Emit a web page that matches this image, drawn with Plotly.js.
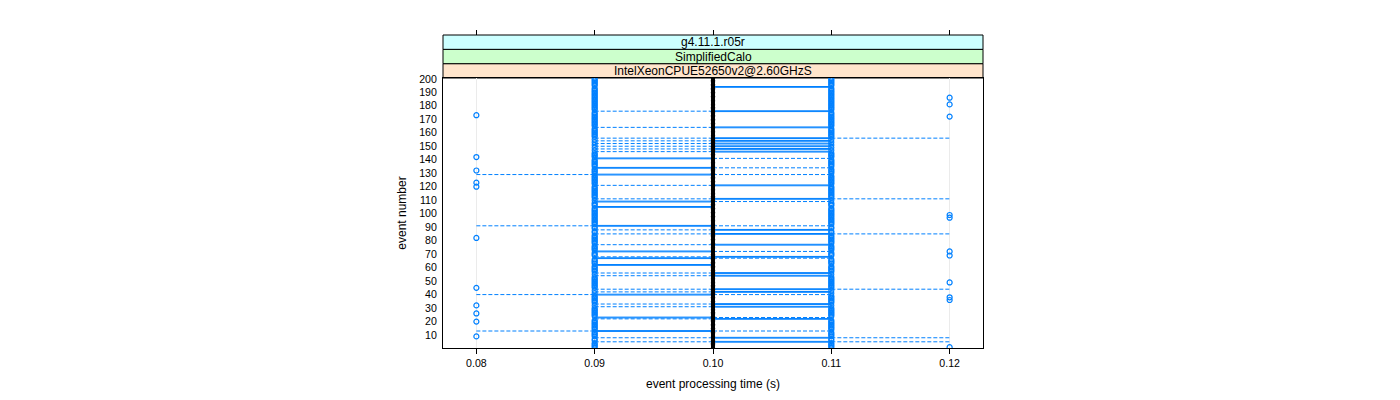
<!DOCTYPE html>
<html><head><meta charset="utf-8">
<script src="https://cdn.plot.ly/plotly-3.0.1.min.js"></script>
<style>html,body{margin:0;padding:0;background:#fff}#chart{width:1400px;height:400px}</style>
</head><body><div id="chart"></div>
<script>
// ---- data ----
const stripLabels = ["IntelXeonCPUE52650v2@2.60GHzS", "SimplifiedCalo", "g4.11.1.r05r"];
const stripColors = ["#ffe5cc", "#ccffcc", "#ccffff"];
const xTickVals = [0.08, 0.09, 0.10, 0.11, 0.12];
const xTickText = ["0.08", "0.09", "0.10", "0.11", "0.12"];
const yTickVals = [10, 20, 30, 40, 50, 60, 70, 80, 90, 100, 110, 120, 130, 140, 150, 160, 170, 180, 190, 200];
const eventCount = 200;
const medianTime = 0.10;            // every event's median
const zeroIqrOutlierTimes = [0.09, 0.11]; // outliers of events whose box collapses to the median

// events whose box has a non-zero width
const boxEvents   = [194, 176, 164, 156, 154, 152, 150, 148, 146, 141, 134, 129, 121, 111, 109, 105, 91, 88, 85, 77, 72, 68, 67, 62, 56, 54, 44, 42, 40, 33, 31, 23, 22, 13, 8, 5];
const boxQ1       = [0.10, 0.10, 0.10, 0.10, 0.10, 0.10, 0.10, 0.10, 0.10, 0.09, 0.09, 0.09, 0.10, 0.10, 0.09, 0.09, 0.09, 0.10, 0.10, 0.10, 0.09, 0.10, 0.09, 0.09, 0.10, 0.10, 0.10, 0.10, 0.09, 0.10, 0.10, 0.09, 0.10, 0.09, 0.10, 0.10];
const boxQ3       = [0.11, 0.11, 0.11, 0.11, 0.11, 0.11, 0.11, 0.11, 0.11, 0.10, 0.10, 0.10, 0.11, 0.11, 0.10, 0.10, 0.10, 0.11, 0.11, 0.11, 0.10, 0.11, 0.10, 0.10, 0.11, 0.11, 0.11, 0.11, 0.10, 0.11, 0.11, 0.10, 0.11, 0.10, 0.11, 0.11];
const whiskerLow  = [0.10, 0.09, 0.09, 0.09, 0.09, 0.09, 0.09, 0.09, 0.09, 0.09, 0.09, 0.08, 0.09, 0.09, 0.09, 0.09, 0.08, 0.09, 0.09, 0.09, 0.09, 0.09, 0.09, 0.09, 0.09, 0.09, 0.09, 0.09, 0.08, 0.09, 0.09, 0.09, 0.09, 0.08, 0.09, 0.09];
const whiskerHigh = [0.11, 0.11, 0.11, 0.12, 0.11, 0.11, 0.11, 0.11, 0.11, 0.11, 0.11, 0.11, 0.11, 0.12, 0.11, 0.10, 0.11, 0.11, 0.12, 0.11, 0.11, 0.11, 0.11, 0.10, 0.11, 0.11, 0.12, 0.11, 0.11, 0.11, 0.11, 0.11, 0.11, 0.11, 0.12, 0.12];

// outlying single values
const outlier08Events = [173, 142, 132, 123, 120, 82, 45, 32, 26, 20, 9];
const outlier12Events = [186, 181, 172, 99, 97, 72, 69, 49, 38, 36, 1];

// ---- build marks ----
const blue = "#0080ff";
const eventNumbers = Array.from({length: eventCount}, (_, i) => i + 1);
const half = 0.3;

const bx = [], by = [];
const wx = [], wy = [];
boxEvents.forEach((e, i) => {
  const a = boxQ1[i], b = boxQ3[i];
  bx.push(a, b, b, a, a, null);
  by.push(e - half, e - half, e + half, e + half, e - half, null);
  if (whiskerLow[i] < a) { wx.push(whiskerLow[i], a, null); wy.push(e, e, null); }
  if (whiskerHigh[i] > b) { wx.push(b, whiskerHigh[i], null); wy.push(e, e, null); }
});

const ox = [], oy = [];
eventNumbers.forEach(e => {
  if (boxEvents.indexOf(e) < 0) zeroIqrOutlierTimes.forEach(t => { ox.push(t); oy.push(e); });
});
outlier08Events.forEach(e => { ox.push(0.08); oy.push(e); });
outlier12Events.forEach(e => { ox.push(0.12); oy.push(e); });

const traces = [
  {type: "scatter", mode: "lines", x: bx, y: by, line: {color: blue, width: 1}, hoverinfo: "skip", connectgaps: false},
  {type: "scatter", mode: "lines", x: wx, y: wy, line: {color: blue, width: 1, dash: "4px,2px"}, hoverinfo: "skip", connectgaps: false},
  {type: "scatter", mode: "markers", x: eventNumbers.map(() => medianTime), y: eventNumbers,
   marker: {symbol: "circle", size: 4.2, color: "#000"}, hoverinfo: "skip"},
  {type: "scatter", mode: "markers", x: ox, y: oy,
   marker: {symbol: "circle-open", size: 5, color: blue, line: {color: blue, width: 1.2}}, hoverinfo: "skip"},
  {type: "scatter", mode: "markers", x: [medianTime], y: [100], xaxis: "x2", yaxis: "y",
   marker: {opacity: 0}, hoverinfo: "skip"}
];

const plotH = 313, panelH = 270;
const dom = panelH / plotH;
const sh = (1 - dom) / 3;
const shapes = [], annotations = [];
stripLabels.forEach((lab, i) => {
  const y0 = dom + i * sh, y1 = dom + (i + 1) * sh;
  shapes.push({type: "rect", xref: "paper", yref: "paper", x0: 0, x1: 1, y0: y0, y1: y1,
    fillcolor: stripColors[i], line: {color: "#000", width: 1}, layer: "below"});
  annotations.push({xref: "paper", yref: "paper", x: 0.5, y: (y0 + y1) / 2, text: lab, showarrow: false,
    xanchor: "center", yanchor: "middle", font: {size: 12, color: "#000"}});
});

const font = "Liberation Sans, Arial, Helvetica, sans-serif";
const xr = [0.07718, 0.12282];
const layout = {
  width: 1400, height: 400,
  margin: {l: 443, r: 417, t: 35, b: 52},
  paper_bgcolor: "#fff", plot_bgcolor: "#fff",
  showlegend: false,
  font: {family: font, color: "#000"},
  xaxis: {range: xr, tickvals: xTickVals, ticktext: xTickText, ticks: "outside", ticklen: 5, tickcolor: "#000",
    showgrid: true, gridcolor: "#ebebeb", gridwidth: 1, zeroline: false, showline: true, mirror: true,
    linecolor: "#000", linewidth: 1, tickfont: {size: 10.6}, automargin: false,
    title: {text: "event processing time (s)", font: {size: 12}, standoff: 11}},
  xaxis2: {range: xr, overlaying: "x", side: "top", anchor: "free", position: 1, tickvals: xTickVals,
    ticks: "outside", ticklen: 5, tickcolor: "#000", showticklabels: false, showgrid: false, zeroline: false, showline: false},
  yaxis: {domain: [0, dom], range: [0.4, 200.6], tickvals: yTickVals, ticks: "outside", ticklen: 3,
    tickcolor: "rgba(0,0,0,0)", showgrid: false, zeroline: false, showline: true, mirror: true,
    linecolor: "#000", linewidth: 1, tickfont: {size: 10.6}, automargin: false,
    title: {text: "event number", font: {size: 12}, standoff: 9}},
  shapes: shapes,
  annotations: annotations
};

Plotly.newPlot("chart", traces, layout, {staticPlot: true, displayModeBar: false});
</script>
</body></html>
